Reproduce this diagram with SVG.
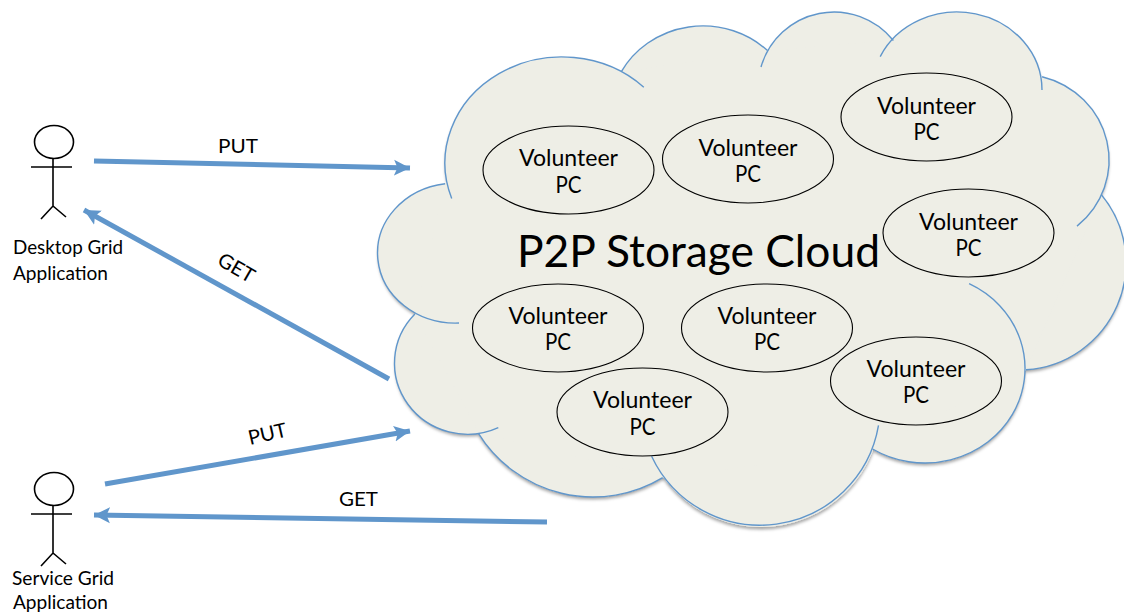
<svg xmlns="http://www.w3.org/2000/svg" width="1124" height="614" viewBox="0 0 1124 614">
<style>
text{font-family:Lato,"Open Sans","Liberation Sans",sans-serif;fill:#000}
.v{font-size:22.5px;text-anchor:middle}
.a{font-size:18.5px}
.l{font-size:20px}
.pc{fill:none;stroke:#000;stroke-width:1.1}
.arc{fill:none;stroke:#6096CB;stroke-width:1.4}
.con{fill:none;stroke:#6096CB;stroke-width:5;marker-end:url(#h)}
.st{fill:none;stroke:#000;stroke-width:1.6}
</style>
<defs>
<marker id="h" markerUnits="userSpaceOnUse" markerWidth="20" markerHeight="20" refX="16" refY="8" orient="auto" viewBox="0 0 20 16">
<path d="M0 0L16 8L0 16L3.500 8Z" fill="#6096CB"/>
</marker>
<filter id="s" x="-5%" y="-5%" width="110%" height="110%">
<feDropShadow dx="0" dy="2.500" stdDeviation="1.500" flood-color="#000" flood-opacity="0.35"/>
</filter>
</defs>
<g id="cloud">
<g filter="url(#s)" fill="#EEEEE6">
<ellipse cx="562" cy="163" rx="117" ry="106"/>
<ellipse cx="703" cy="114" rx="93" ry="88"/>
<circle cx="834" cy="88" r="76"/>
<ellipse cx="957" cy="90" rx="85" ry="78"/>
<ellipse cx="1020" cy="160" rx="89" ry="86"/>
<circle cx="1019" cy="263" r="107"/>
<ellipse cx="925" cy="368.500" rx="100" ry="94.500"/>
<circle cx="761" cy="407" r="120"/>
<circle cx="593" cy="362" r="135"/>
<ellipse cx="468" cy="363" rx="73" ry="71"/>
<ellipse cx="456" cy="253" rx="78" ry="70"/>
<path d="M445 183L621 72L767 51L894 40L1042 77L1101 195L1026 370L872 449L663 478L479 433L415 314Z"/>
</g>
<path class="arc" d="M451.700 198.400A117 106 0 0 1 643.800 87.200"/>
<path class="arc" d="M621.200 71.900A93 88 0 0 1 767.500 50.600"/>
<path class="arc" d="M761 67A76 76 0 0 1 893.400 40.500"/>
<path class="arc" d="M880.200 56.600A85 78 0 0 1 1042 90"/>
<path class="arc" d="M1042.100 76.700A89 86 0 0 1 1077 226.100"/>
<path class="arc" d="M1101.400 194.700A107 107 0 0 1 1026 369.800"/>
<path class="arc" d="M969.100 283.700A100 94.500 0 1 1 872.600 449"/>
<path class="arc" d="M878.500 425.400A120 120 0 0 1 651.600 456.200"/>
<path class="arc" d="M662.700 477.600A135 135 0 0 1 478.400 433.400"/>
<path class="arc" d="M498.300 427.600A73 71 0 0 1 414.900 314"/>
<path class="arc" d="M459 323A78 70 0 0 1 445.100 183.700"/>
<text x="517" y="267" font-size="45" textLength="363" lengthAdjust="spacingAndGlyphs">P2P Storage Cloud</text>
</g>
<g id="pc1"><ellipse class="pc" cx="568.500" cy="170" rx="85.500" ry="44"/><text class="v" x="568.500" y="166" textLength="99" lengthAdjust="spacingAndGlyphs">Volunteer</text><text class="v" x="568.500" y="193" textLength="26" lengthAdjust="spacingAndGlyphs">PC</text></g>
<g id="pc2"><ellipse class="pc" cx="748" cy="159" rx="85.500" ry="44"/><text class="v" x="748" y="156" textLength="99" lengthAdjust="spacingAndGlyphs">Volunteer</text><text class="v" x="748" y="182" textLength="26" lengthAdjust="spacingAndGlyphs">PC</text></g>
<g id="pc3"><ellipse class="pc" cx="926.500" cy="117" rx="85.500" ry="44"/><text class="v" x="926.500" y="114" textLength="99" lengthAdjust="spacingAndGlyphs">Volunteer</text><text class="v" x="926.500" y="140" textLength="26" lengthAdjust="spacingAndGlyphs">PC</text></g>
<g id="pc4"><ellipse class="pc" cx="968.500" cy="233" rx="85.500" ry="44"/><text class="v" x="968.500" y="230" textLength="99" lengthAdjust="spacingAndGlyphs">Volunteer</text><text class="v" x="968.500" y="256" textLength="26" lengthAdjust="spacingAndGlyphs">PC</text></g>
<g id="pc5"><ellipse class="pc" cx="558" cy="328" rx="85.500" ry="44"/><text class="v" x="558" y="324" textLength="99" lengthAdjust="spacingAndGlyphs">Volunteer</text><text class="v" x="558" y="350" textLength="26" lengthAdjust="spacingAndGlyphs">PC</text></g>
<g id="pc6"><ellipse class="pc" cx="767" cy="328" rx="85.500" ry="44"/><text class="v" x="767" y="324" textLength="99" lengthAdjust="spacingAndGlyphs">Volunteer</text><text class="v" x="767" y="350" textLength="26" lengthAdjust="spacingAndGlyphs">PC</text></g>
<g id="pc7"><ellipse class="pc" cx="642.500" cy="412" rx="85.500" ry="44"/><text class="v" x="642.500" y="408" textLength="99" lengthAdjust="spacingAndGlyphs">Volunteer</text><text class="v" x="642.500" y="435" textLength="26" lengthAdjust="spacingAndGlyphs">PC</text></g>
<g id="pc8"><ellipse class="pc" cx="916" cy="381" rx="85.500" ry="44"/><text class="v" x="916" y="377" textLength="99" lengthAdjust="spacingAndGlyphs">Volunteer</text><text class="v" x="916" y="403" textLength="26" lengthAdjust="spacingAndGlyphs">PC</text></g>
<g id="actor-desktop">
<ellipse class="st" cx="54" cy="142" rx="19.500" ry="16.500"/>
<path class="st" d="M31 167H72M53 158.500V206M41 219L53 206L66 217"/>
<text class="a" x="13" y="254" textLength="110" lengthAdjust="spacingAndGlyphs">Desktop Grid</text>
<text class="a" x="13" y="279.500" textLength="95" lengthAdjust="spacingAndGlyphs">Application</text>
</g>
<g id="actor-service">
<ellipse class="st" cx="54" cy="489" rx="19.500" ry="16.500"/>
<path class="st" d="M31 514H72M53 505.500V553M41 566L53 553L66 564"/>
<text class="a" x="12" y="584.500" textLength="102" lengthAdjust="spacingAndGlyphs">Service Grid</text>
<text class="a" x="13" y="608.500" textLength="95" lengthAdjust="spacingAndGlyphs">Application</text>
</g>
<g id="connectors">
<path class="con" d="M94 161L410 168"/>
<path class="con" d="M389 379L84 210"/>
<path class="con" d="M105 484L410 431"/>
<path class="con" d="M547 522L94 515"/>
<text class="l" x="218" y="153" textLength="40" lengthAdjust="spacingAndGlyphs">PUT</text>
<text class="l" transform="translate(216 264) rotate(30)" textLength="39" lengthAdjust="spacingAndGlyphs">GET</text>
<text class="l" transform="translate(250 445) rotate(-13)" textLength="39" lengthAdjust="spacingAndGlyphs">PUT</text>
<text class="l" x="339" y="506" textLength="39" lengthAdjust="spacingAndGlyphs">GET</text>
</g>
</svg>
